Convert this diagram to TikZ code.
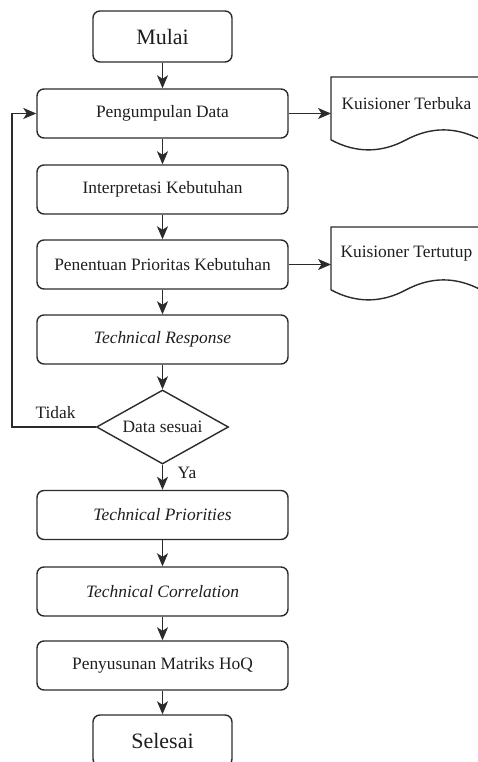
\documentclass[tikz,border=0pt]{standalone}
\usepackage{fontspec}
\setmainfont{Liberation Serif}
\usetikzlibrary{shapes.geometric,arrows.meta}
\definecolor{lineclr}{HTML}{2B2B2B}
\definecolor{txtclr}{HTML}{1E1E1E}
\tikzset{
  stepbox/.style={draw=lineclr, line width=0.8pt, rounded corners=0.14cm, minimum width=5.02cm, minimum height=0.98cm, inner sep=0pt, text=txtclr, font=\fontsize{9.9}{12}\selectfont},
  termbox/.style={stepbox, minimum width=2.78cm, minimum height=1.02cm, font=\fontsize{12.5}{15}\selectfont},
  decide/.style={draw=lineclr, line width=0.8pt, diamond, aspect=1.78, minimum width=2.64cm, minimum height=1.48cm, inner sep=0pt, text=txtclr, font=\fontsize{9.9}{12}\selectfont},
  docbox/.style={minimum width=3cm, minimum height=1.036cm, inner sep=0pt, anchor=north west, text=txtclr, font=\fontsize{9.9}{12}\selectfont},
  arr/.style={draw=lineclr, line width=0.8pt, -{Stealth[length=2.6mm, width=2.2mm, inset=0.7mm]}},
  lbl/.style={text=txtclr, font=\fontsize{9.9}{12}\selectfont, inner sep=0pt}
}
\begin{document}
\begin{tikzpicture}
  \useasboundingbox (0,0) rectangle (9.56,15.24);
  % main flow
  \node[termbox] (mulai) at (3.25,14.51) {Mulai};
  \node[stepbox] (pgd) at (3.25,12.97) {Pengumpulan Data};
  \node[stepbox] (itp) at (3.25,11.45) {Interpretasi Kebutuhan};
  \node[stepbox] (ppk) at (3.25,9.95) {Penentuan Prioritas Kebutuhan};
  \node[stepbox] (tres) at (3.25,8.45) {\textit{Technical Response}};
  \node[decide] (cek) at (3.25,6.70) {Data sesuai};
  \node[stepbox] (tpri) at (3.25,4.94) {\textit{Technical Priorities}};
  \node[stepbox] (tcor) at (3.25,3.41) {\textit{Technical Correlation}};
  \node[stepbox] (hoq) at (3.25,1.93) {Penyusunan Matriks HoQ};
  \node[termbox] (selesai) at (3.25,0.43) {Selesai};
  % questionnaires
  \node[docbox] (qopen) at (6.62,13.70) {Kuisioner Terbuka};
  \node[docbox] (qclosed) at (6.62,10.70) {Kuisioner Tertutup};
  \foreach \doc in {qopen,qclosed}{
    \draw[lineclr, line width=0.8pt, shift={(\doc.north west)}] (0,-1.258) -- (0,0) -- (3,0) -- (3,-1.258)
      .. controls (2.5,-0.9916) and (2.0,-0.9916) .. (1.5,-1.258)
      .. controls (1.0,-1.5244) and (0.5,-1.5244) .. (0,-1.258);
  }
  % connectors
  \foreach \a/\b in {mulai/pgd,pgd/itp,itp/ppk,ppk/tres,tres/cek,cek/tpri,tpri/tcor,tcor/hoq,hoq/selesai}
    \draw[arr] (\a.south) -- (\b.north);
  \draw[arr] (pgd.east) -- (pgd.east -| qopen.west);
  \draw[arr] (ppk.east) -- (ppk.east -| qclosed.west);
  \coordinate (back) at (0.24,9.8);
  \draw[arr] (cek.west) -| (back) |- (pgd.west);
  \node[lbl] (tidak) at (1.11,6.98) {Tidak};
  \node[lbl] (ya) at (3.74,5.78) {Ya};
\end{tikzpicture}
\end{document}
